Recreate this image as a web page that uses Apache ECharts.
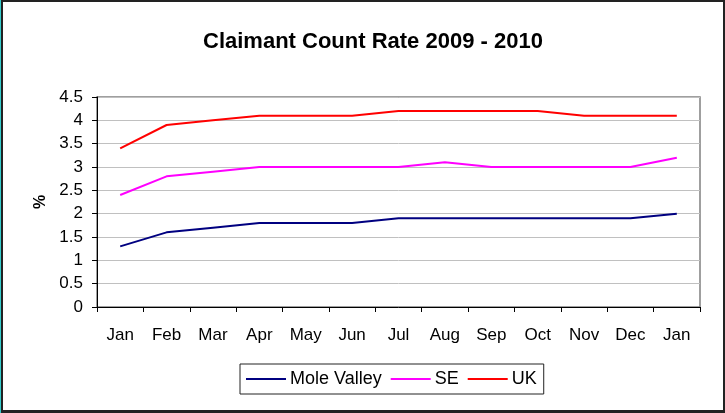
<!DOCTYPE html>
<html><head><meta charset="utf-8">
<script src="https://cdn.jsdelivr.net/npm/echarts@6/dist/echarts.min.js"></script>
<style>
html,body{margin:0;padding:0;background:#fff;}
#frame{position:absolute;left:0;top:0;width:725px;height:413px;box-sizing:border-box;border-top:2px solid #222;border-right:2px solid #222;border-bottom:3px solid #222;border-left:3px solid #222;}
#edge{position:absolute;left:0;top:0;width:1px;height:413px;background:#3cc;}
#c{position:absolute;left:0;top:0;width:725px;height:413px;}
</style></head>
<body>
<div id="c"></div>
<div id="frame"></div>
<div id="edge"></div>
<script>
const categories = ['Jan','Feb','Mar','Apr','May','Jun','Jul','Aug','Sep','Oct','Nov','Dec','Jan'];
const moleValley = [1.3,1.6,1.7,1.8,1.8,1.8,1.9,1.9,1.9,1.9,1.9,1.9,2.0];
const se = [2.4,2.8,2.9,3.0,3.0,3.0,3.0,3.1,3.0,3.0,3.0,3.0,3.2];
const uk = [3.4,3.9,4.0,4.1,4.1,4.1,4.2,4.2,4.2,4.2,4.1,4.1,4.1];
const yTicks = ['0','0.5','1','1.5','2','2.5','3','3.5','4','4.5'];

const font = 'Liberation Sans, Arial, sans-serif';
const chart = echarts.init(document.getElementById('c'), null, {renderer:'canvas'});
function line(name, data, color){
  return {name, type:'line', data, symbol:'none', smooth:false,
    lineStyle:{color, width:2}, itemStyle:{color}, animation:false};
}
chart.setOption({
  animation:false,
  title:{text:'Claimant Count Rate 2009 - 2010', left:198, top:26,
    textStyle:{fontFamily:font, fontSize:22, fontWeight:'bold', color:'#000'}},
  grid:{left:97, right:25, top:97, bottom:106, show:true, borderColor:'#808080', borderWidth:1.5, backgroundColor:'#fff'},
  legend:{bottom:19, left:240, padding:[6,7,6,6], borderColor:'#222', borderWidth:1,
    icon:'rect', itemWidth:40, itemHeight:2, itemGap:9,
    textStyle:{fontFamily:font, fontSize:18, color:'#000', padding:[0,0,0,-1]},
    data:['Mole Valley','SE','UK']},
  xAxis:{type:'category', data:categories, boundaryGap:true,
    axisLine:{lineStyle:{color:'#000', width:1}},
    axisTick:{show:true, alignWithLabel:false, length:5, lineStyle:{color:'#000'}},
    axisLabel:{fontFamily:font, fontSize:17, color:'#000', margin:20}},
  yAxis:{type:'value', min:0, max:4.5, interval:0.5, name:'%', nameLocation:'middle', nameGap:47, nameRotate:90,
    nameTextStyle:{fontFamily:font, fontSize:16, fontWeight:'bold', color:'#000'},
    axisLine:{show:true, lineStyle:{color:'#000', width:1}},
    axisTick:{show:true, length:5, lineStyle:{color:'#000'}},
    axisLabel:{fontFamily:font, fontSize:17, color:'#000', margin:14,
      formatter:(v)=>yTicks[Math.round(v*2)]},
    splitLine:{lineStyle:{color:'#c0c0c0', width:1}}},
  series:[line('Mole Valley', moleValley, '#000080'), line('SE', se, '#ff00ff'), line('UK', uk, '#ff0000')]
});
</script>
</body></html>
